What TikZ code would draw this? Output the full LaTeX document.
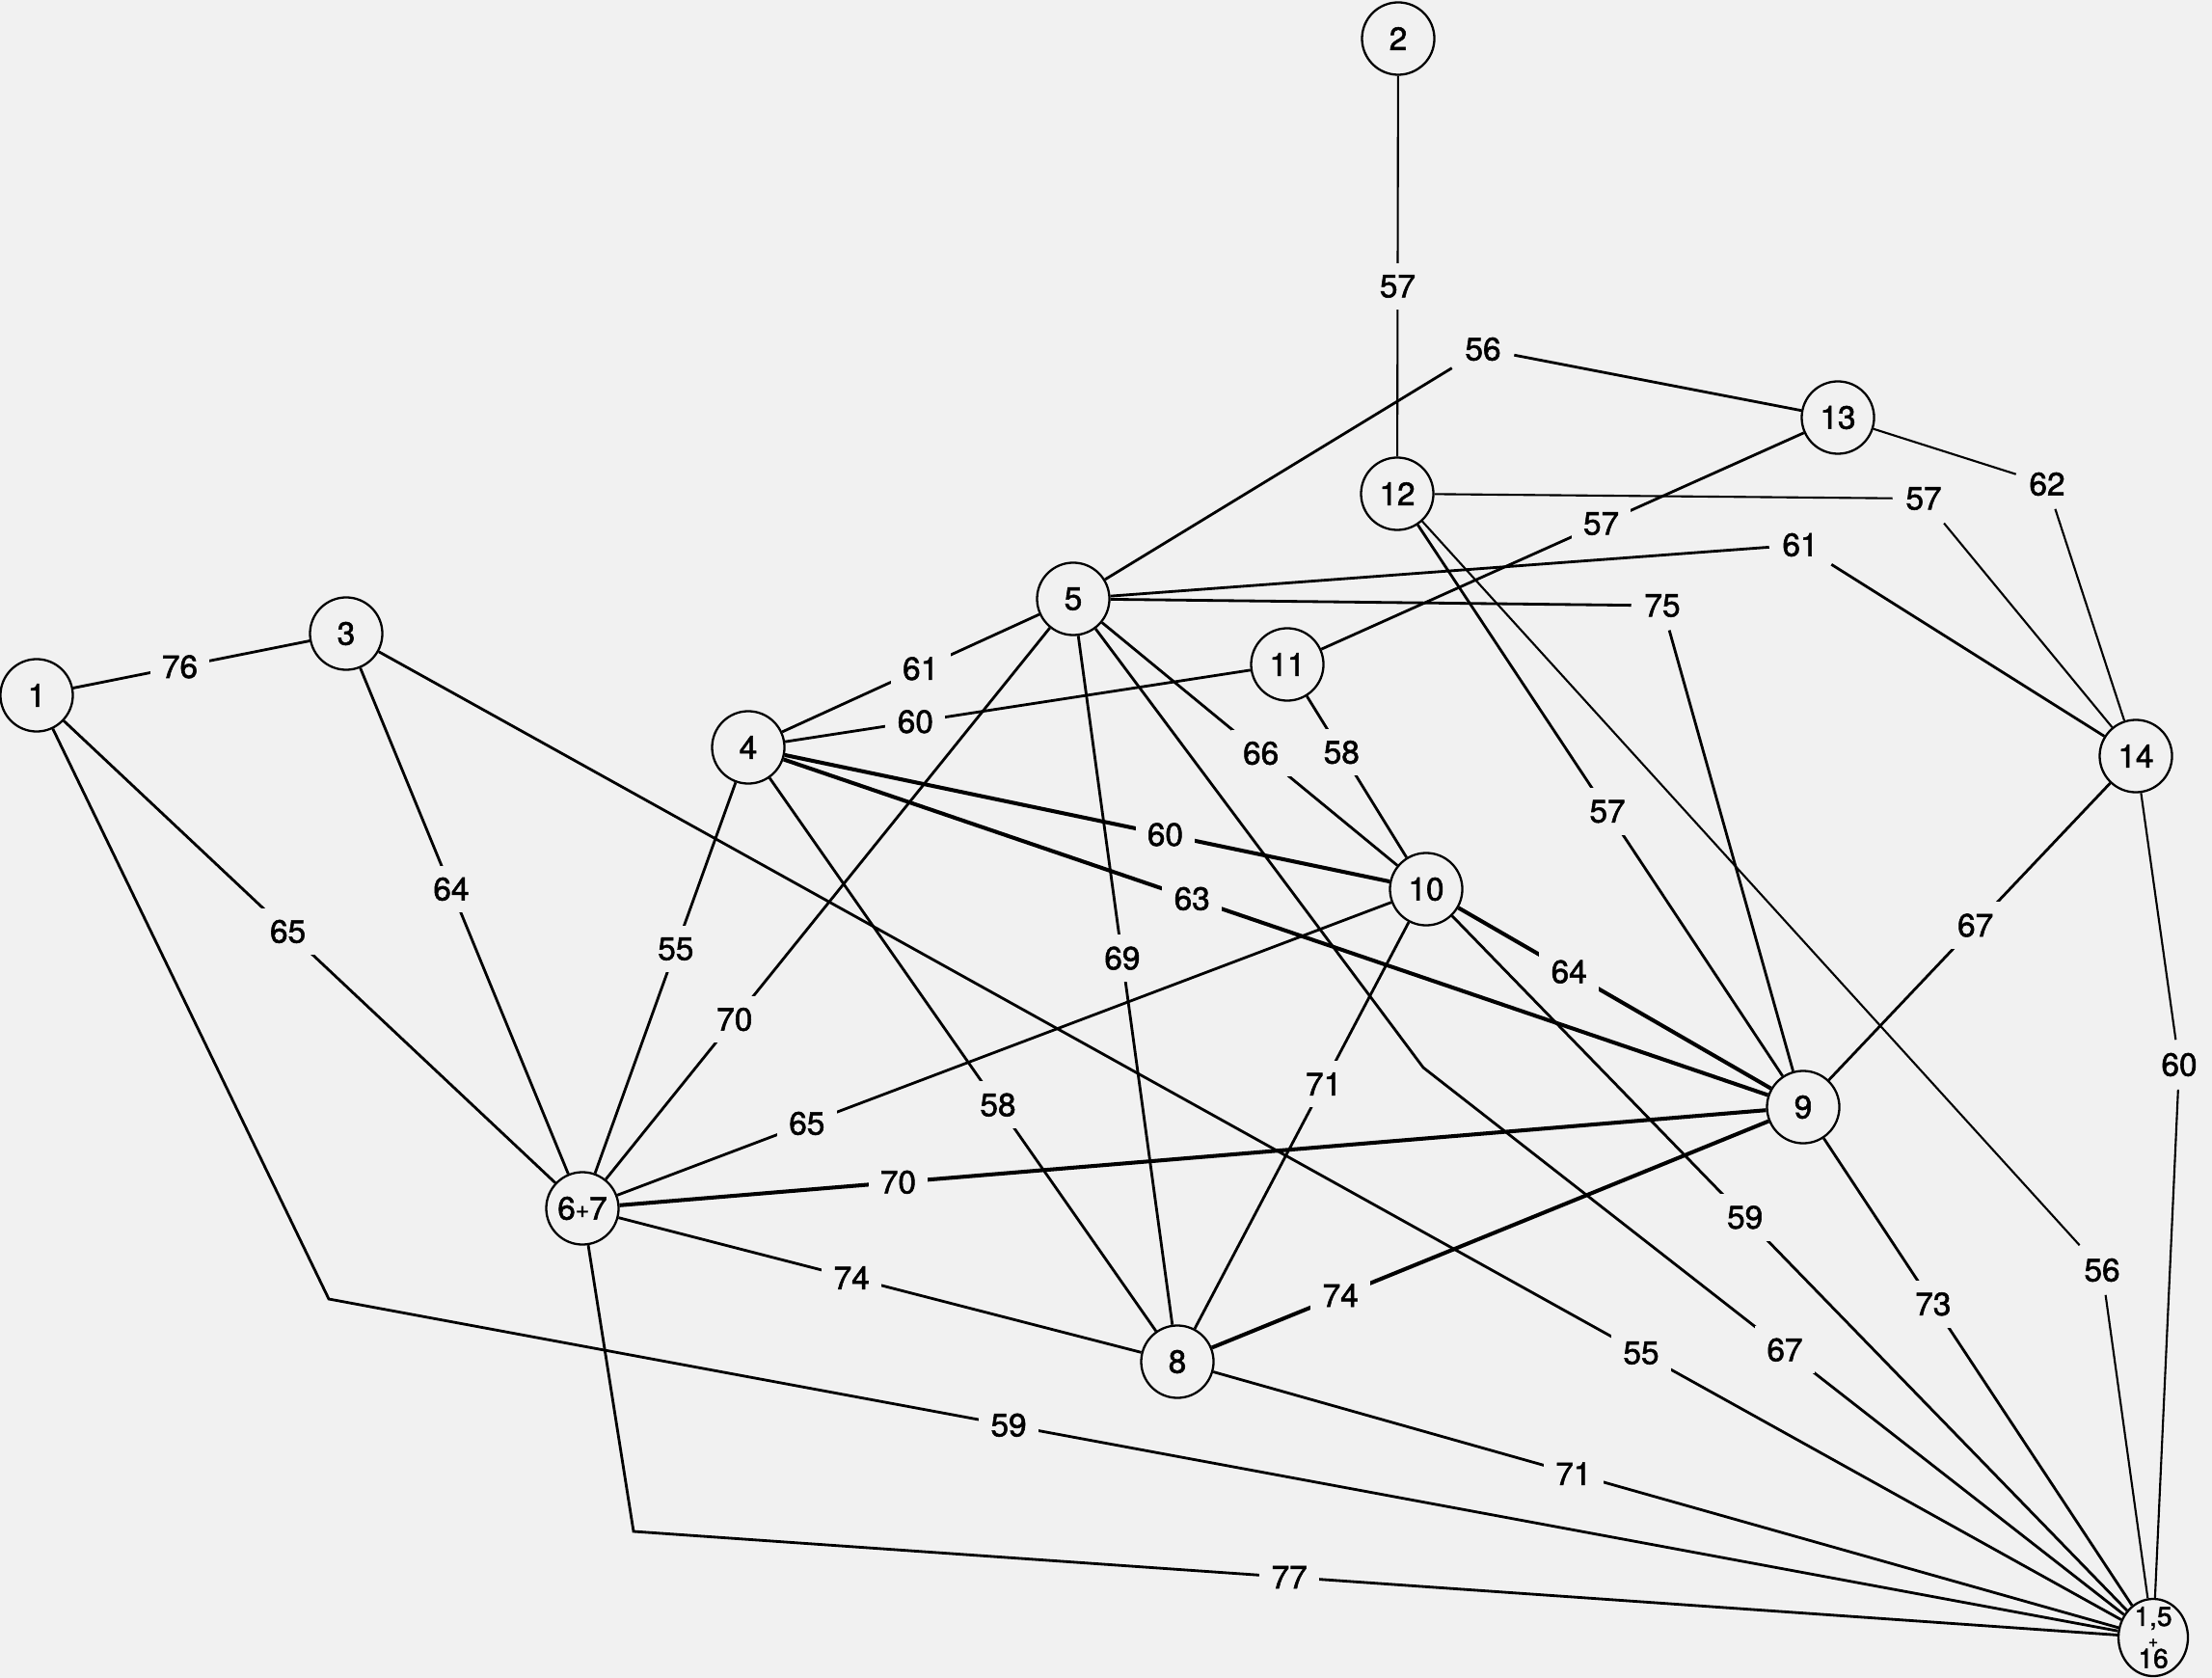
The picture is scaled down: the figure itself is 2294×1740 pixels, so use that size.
\documentclass[tikz,border=0pt]{standalone}
\usepackage{fontspec}
\setmainfont{TeX Gyre Heros}[FakeBold=1.6]
\usetikzlibrary{shapes.geometric}
\definecolor{paper}{RGB}{241,241,241}

\begin{document}
\begin{tikzpicture}[x=0.01cm,y=-0.01cm,line width=0.8pt,
    site node/.style={circle,draw,line width=0.65pt,fill=paper,minimum size=0.75cm,inner sep=0pt,font=\fontsize{9.5}{11}\selectfont},
    weight/.style={fill=paper,inner sep=3.5pt,font=\fontsize{9.5}{11}\selectfont},
    heavy/.style={line width=1.15pt}, light/.style={line width=0.6pt}]

  \fill[paper] (0,0) rectangle (2294,1740);
  \useasboundingbox (0,0) rectangle (2294,1740);

  \node[site node] (n1) at (38,721) {1};
  \node[site node] (n2) at (1450,40) {2};
  \node[site node] (n3) at (359,657) {3};
  \node[site node] (n4) at (776,775) {4};
  \node[site node] (n5) at (1113,621) {5};
  \node[site node] (n67) at (604,1253) {6\raisebox{0.6pt}{\scriptsize+}7};
  \node[site node] (n8) at (1221,1412) {8};
  \node[site node] (n9) at (1870,1148) {9};
  \node[site node] (n10) at (1479,922) {10};
  \node[site node] (n11) at (1335,689) {11};
  \node[site node] (n12) at (1449,512) {12};
  \node[site node] (n13) at (1906,433) {13};
  \node[site node] (n14) at (2215,784) {14};
  \node[site node,ellipse,minimum width=0.72cm,minimum height=0.8cm,
    label={[align=center,font=\fontsize{8}{6.2}\selectfont]center:{1,5\\{\tiny +}\\16}}] (n15) at (2233,1698) {};

  \node[weight] (w56) at (1538,362) {56};
  \node[weight] (w57) at (1995,517) {57};
  \node[weight] (w61) at (1867,565) {61};
  \node[weight] (w75) at (1724,628) {75};
  \node[weight] (w62) at (2123,502) {62};
  \node[weight] (w60) at (2260,1104) {60};
  \node[weight] (w56b) at (2180,1317) {56};

  \coordinate (k59) at (341,1347);
  \coordinate (k77) at (657,1588);
  \coordinate (k67) at (1476,1107);

  \path
        (n1) edge node[weight,pos=0.451] {76} (n3)
        (n1) edge node[weight,pos=0.456] {65} (n67)
        (n3) edge node[weight,pos=0.437] {64} (n67)
        (n4) edge node[weight,pos=0.426] {55} (n67)
        (n5) edge node[weight,pos=0.71] {70} (n67)
        (n5) edge node[weight,pos=0.462] {61} (n4)
        (n11) edge node[weight,pos=0.72] {60} (n4)
        (n10) edge[heavy] node[weight,pos=0.371] {60} (n4)
        (n9) edge[heavy] node[weight,pos=0.585] {63} (n4)
        (n5) edge node[weight,pos=0.468] {69} (n8)
        (n5) edge node[weight,pos=0.538] {66} (n10)
        (n11) edge node[weight,pos=0.348] {58} (n10)
        (n4) edge node[weight,pos=0.591] {58} (n8)
        (n10) edge node[weight,pos=0.755] {65} (n67)
        (n9) edge[heavy] node[weight,pos=0.757] {70} (n67)
        (n10) edge node[weight,pos=0.398] {71} (n8)
        (n2) edge[light] node[weight,pos=0.553] {57} (n12)
        (n13) edge node[weight,pos=0.42] {57} (n11)
        (n12) edge node[weight,pos=0.52] {57} (n9)
        (n10) edge[heavy] node[weight,pos=0.354] {64} (n9)
        (n14) edge node[weight,pos=0.479] {67} (n9)
        (n9) edge[heavy] node[weight,pos=0.769] {74} (n8)
        (n10) edge node[weight,pos=0.434] {59} (n15)
        (n9) edge node[weight,pos=0.355] {73} (n15)
        (n3) edge node[weight,pos=0.7245] {55} (n15)
        (n8) edge node[weight,pos=0.398] {71} (n15)
        (n67) edge node[weight,pos=0.446] {74} (n8)
;

  \draw (n5) -- (w56) -- (n13);
  \draw[light] (n12) -- (w57) -- (n14);
  \draw (n5) -- (w61) -- (n14);
  \draw (n5) -- (w75) -- (n9);
  \draw[light] (n13) -- (w62) -- (n14);
  \draw[light] (n14) -- (w60) -- (n15);
  \draw[light] (n12) -- (w56b) -- (n15);

  \draw (n1) -- (k59) -- node[weight,pos=0.38] {59} (n15);
  \draw (n67) -- (k77) -- node[weight,pos=0.442] {77} (n15);
  \draw (n5) -- (k67) -- node[weight,pos=0.516] {67} (n15);
\end{tikzpicture}
\end{document}
